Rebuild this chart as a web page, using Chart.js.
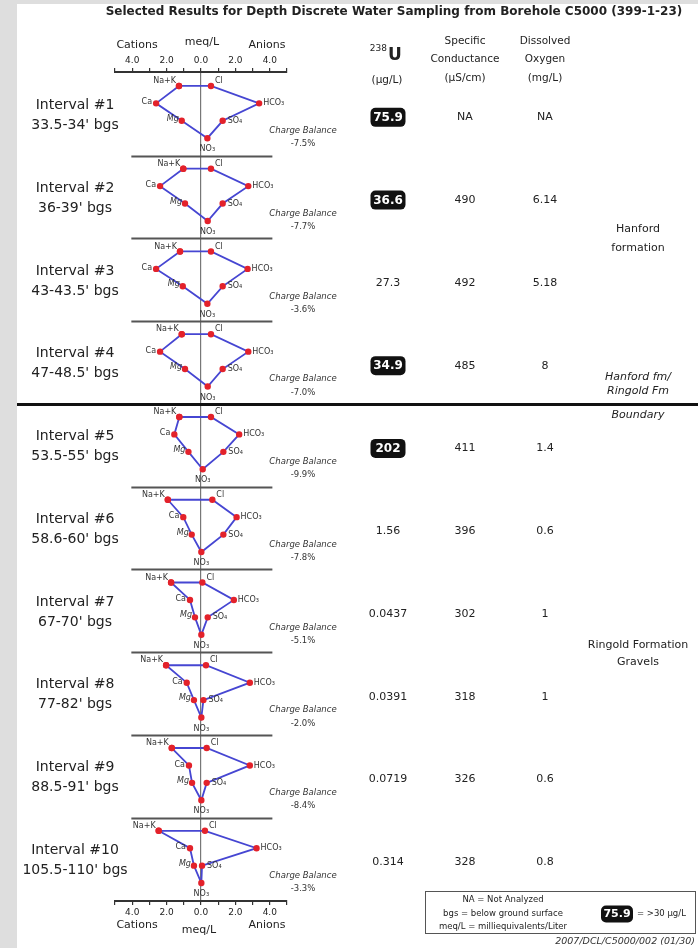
<!DOCTYPE html>
<html>
<head>
<meta charset="utf-8">
<script src="https://cdn.jsdelivr.net/npm/chart.js@4.4.1/dist/chart.umd.min.js"></script>
<style>
    body { margin: 0; background: #dedede; }
    #sheet { position: absolute; left: 17px; top: 4px; width: 681px; height: 944px; background: #ffffff; }
    #wrap { position: absolute; left: 0; top: 0; width: 698px; height: 948px; }
</style>
</head>
<body>
<div id="sheet"></div>
<div id="wrap"><canvas id="stiffChart" width="698" height="948"></canvas></div>
<script>
// Stiff diagrams for depth discrete samples, borehole C5000

const intervals = ['Interval #1', 'Interval #2', 'Interval #3', 'Interval #4', 'Interval #5',
    'Interval #6', 'Interval #7', 'Interval #8', 'Interval #9', 'Interval #10'];
const depths = ["33.5-34' bgs", "36-39' bgs", "43-43.5' bgs", "47-48.5' bgs", "53.5-55' bgs",
    "58.6-60' bgs", "67-70' bgs", "77-82' bgs", "88.5-91' bgs", "105.5-110' bgs"];

// cations (meq/L), plotted to the left
const naK = [1.28, 1.03, 1.22, 1.12, 1.26, 1.93, 1.74, 2.03, 1.70, 2.46];
const ca  = [2.61, 2.38, 2.61, 2.38, 1.55, 1.03, 0.64, 0.83, 0.70, 0.64];
const mg  = [1.12, 0.93, 1.06, 0.93, 0.73, 0.54, 0.35, 0.41, 0.52, 0.41];
// anions (meq/L), plotted to the right
const cl   = [0.58, 0.58, 0.58, 0.58, 0.58, 0.66, 0.08, 0.29, 0.33, 0.23];
const hco3 = [3.38, 2.75, 2.71, 2.75, 2.22, 2.07, 1.91, 2.84, 2.84, 3.23];
const so4  = [1.26, 1.26, 1.26, 1.26, 1.30, 1.30, 0.39, 0.14, 0.33, 0.06];
const no3  = [0.37, 0.39, 0.37, 0.39, 0.10, 0.02, 0.02, 0.02, 0.02, 0.02];

const chargeBalance = ['-7.5%', '-7.7%', '-3.6%', '-7.0%', '-9.9%', '-7.8%', '-5.1%', '-2.0%', '-8.4%', '-3.3%'];
const uranium = ['75.9', '36.6', '27.3', '34.9', '202', '1.56', '0.0437', '0.0391', '0.0719', '0.314'];
const conductance = ['NA', '490', '492', '485', '411', '396', '302', '318', '326', '328'];
const oxygen = ['NA', '6.14', '5.18', '8', '1.4', '0.6', '1', '1', '0.6', '0.8'];
const xTicks = [-4, -2, 0, 2, 4];

const PANEL = 4.75;       // rows per interval block
const FONT = '"DejaVu Sans", sans-serif';

function panelData(i) {
    const b = i * PANEL;
    return [
        { x: -naK[i], y: b }, { x: cl[i], y: b },
        { x: hco3[i], y: b + 1 }, { x: so4[i], y: b + 2 },
        { x: no3[i], y: b + 3 }, { x: -mg[i], y: b + 2 },
        { x: -ca[i], y: b + 1 }, { x: -naK[i], y: b }
    ];
}

function txt(ctx, s, x, y, font, align, color) {
    ctx.font = font;
    ctx.textAlign = align || 'center';
    ctx.textBaseline = 'middle';
    ctx.fillStyle = color || '#222';
    ctx.fillText(s, x, y);
}

function blackBox(ctx, s, cx, cy, w, h, size) {
    ctx.fillStyle = '#111';
    ctx.beginPath();
    ctx.roundRect(cx - w / 2, cy - h / 2, w, h, 5);
    ctx.fill();
    txt(ctx, s, cx, cy + 0.5, 'bold ' + size + 'px ' + FONT, 'center', '#fff');
}

const separators = {
    id: 'separators',
    beforeDatasetsDraw(chart) {
        const { ctx, scales: { x, y } } = chart;
        ctx.save();
        for (let i = 0; i < intervals.length - 1; i++) {
            const py = Math.round(y.getPixelForValue(i * PANEL + 4.0)) + 0.5;
            ctx.beginPath();
            if (i === 3) {
                ctx.strokeStyle = '#111';
                ctx.lineWidth = 3;
                ctx.moveTo(17, py);
                ctx.lineTo(698, py);
            } else {
                ctx.strokeStyle = '#555';
                ctx.lineWidth = 2;
                ctx.moveTo(x.getPixelForValue(-4.05), py);
                ctx.lineTo(x.getPixelForValue(4.15), py);
            }
            ctx.stroke();
        }
        ctx.restore();
    }
};

const sheetText = {
    id: 'sheetText',
    afterDraw(chart) {
        const { ctx, scales: { x, y } } = chart;
        ctx.save();

        txt(ctx, 'Selected Results for Depth Discrete Water Sampling from Borehole C5000 (399-1-23)',
            394, 12, 'bold 12px ' + FONT);

        // axis captions
        const cap = '11px ' + FONT;
        txt(ctx, 'Cations', 137, 45, cap);
        txt(ctx, 'meq/L', 202, 42, cap);
        txt(ctx, 'Anions', 267, 45, cap);
        txt(ctx, 'Cations', 137, 925, cap);
        txt(ctx, 'meq/L', 199, 930, cap);
        txt(ctx, 'Anions', 267, 925, cap);

        // column headers
        const head = '10.5px ' + FONT;
        txt(ctx, '238', 387, 49, '9px ' + FONT, 'right');
        txt(ctx, 'U', 388, 56, 'bold 17px ' + FONT, 'left');
        txt(ctx, '(\u00b5g/L)', 387, 80, head);
        txt(ctx, 'Specific', 465, 41, head);
        txt(ctx, 'Conductance', 465, 59, head);
        txt(ctx, '(\u00b5S/cm)', 465, 78, head);
        txt(ctx, 'Dissolved', 545, 41, head);
        txt(ctx, 'Oxygen', 545, 59, head);
        txt(ctx, '(mg/L)', 545, 78, head);

        const ion = '8px ' + FONT;
        const ionC = '#333';
        intervals.forEach((name, i) => {
            const b = i * PANEL;
            const y0 = y.getPixelForValue(b);
            const y1 = y.getPixelForValue(b + 1);
            const y2 = y.getPixelForValue(b + 2);
            const y3 = y.getPixelForValue(b + 3);

            // ion labels next to their points
            txt(ctx, 'Na+K', x.getPixelForValue(-naK[i]) - 3, y0 - 5, ion, 'right', ionC);
            txt(ctx, 'Cl', x.getPixelForValue(cl[i]) + 4, y0 - 5, ion, 'left', ionC);
            txt(ctx, 'Ca', x.getPixelForValue(-ca[i]) - 4, y1 - 1, ion, 'right', ionC);
            txt(ctx, 'HCO\u2083', x.getPixelForValue(hco3[i]) + 4, y1, ion, 'left', ionC);
            txt(ctx, 'Mg', x.getPixelForValue(-mg[i]) - 3, y2 - 2, 'italic ' + ion, 'right', ionC);
            txt(ctx, 'SO\u2084', x.getPixelForValue(so4[i]) + 5, y2, ion, 'left', ionC);
            txt(ctx, 'NO\u2083', x.getPixelForValue(no3[i]), y3 + 11, ion, 'center', ionC);

            // interval names
            txt(ctx, name, 75, y1 + 2, '14px ' + FONT);
            txt(ctx, depths[i], 75, y1 + 22, '14px ' + FONT);

            // charge balance
            txt(ctx, 'Charge Balance', 303, y2 + 10, 'italic 8.5px ' + FONT, 'center', '#333');
            txt(ctx, chargeBalance[i], 303, y3 + 6, '8.5px ' + FONT, 'center', '#333');

            // table values
            const vy = y1 + 14;
            if (parseFloat(uranium[i]) > 30) {
                blackBox(ctx, uranium[i], 388, vy, 35, 19, 12);
            } else {
                txt(ctx, uranium[i], 388, vy, '11px ' + FONT);
            }
            txt(ctx, conductance[i], 465, vy, '11px ' + FONT);
            txt(ctx, oxygen[i], 545, vy, '11px ' + FONT);
        });

        // formations
        const fm = '11px ' + FONT;
        txt(ctx, 'Hanford', 638, 229, fm);
        txt(ctx, 'formation', 638, 248, fm);
        txt(ctx, 'Hanford fm/', 638, 377, 'italic ' + fm);
        txt(ctx, 'Ringold Fm', 638, 391, 'italic ' + fm);
        txt(ctx, 'Boundary', 638, 415, 'italic ' + fm);
        txt(ctx, 'Ringold Formation', 638, 645, fm);
        txt(ctx, 'Gravels', 638, 662, fm);

        // key box
        ctx.strokeStyle = '#555';
        ctx.lineWidth = 1;
        ctx.strokeRect(425.5, 891.5, 270, 42);
        const key = '8.5px ' + FONT;
        txt(ctx, 'NA = Not Analyzed', 503, 900, key);
        txt(ctx, 'bgs = below ground surface', 503, 914, key);
        txt(ctx, 'meq/L = milliequivalents/Liter', 503, 927, key);
        blackBox(ctx, '75.9', 617, 914, 32, 17, 11);
        txt(ctx, '= >30 \u00b5g/L', 637, 914, key, 'left');

        txt(ctx, '2007/DCL/C5000/002 (01/30)', 695, 942, 'italic 9.5px ' + FONT, 'right', '#333');

        ctx.restore();
    }
};

function axisCfg(position, drawCenter) {
    return {
        type: 'linear',
        position: position,
        min: -5,
        max: 5,
        afterFit: s => { s.height = 16; },
        ticks: {
            stepSize: 1,
            autoSkip: false,
            maxRotation: 0,
            padding: 2,
            color: '#222',
            font: { family: 'DejaVu Sans', size: 9 },
            callback: v => xTicks.includes(v) ? Math.abs(v).toFixed(1) : ''
        },
        grid: {
            drawOnChartArea: drawCenter,
            color: c => (c.tick && c.tick.value === 0) ? '#777' : 'rgba(0,0,0,0)',
            lineWidth: 1.2,
            tickColor: '#333',
            tickLength: 4
        },
        border: { color: '#333', width: 2 }
    };
}

const ctx = document.getElementById('stiffChart');

new Chart(ctx, {
    type: 'scatter',
    data: {
        datasets: intervals.map((name, i) => ({
            label: name,
            data: panelData(i),
            showLine: true,
            borderColor: '#4646d2',
            borderWidth: 1.8,
            pointBackgroundColor: '#e3222b',
            pointBorderColor: '#e3222b',
            pointRadius: 2.3,
            tension: 0
        }))
    },
    options: {
        responsive: false,
        animation: false,
        devicePixelRatio: 1,
        layout: { padding: { left: 115, right: 411, top: 56, bottom: 31 } },
        plugins: {
            legend: { display: false },
            tooltip: { enabled: false }
        },
        scales: {
            x: axisCfg('bottom', true),
            x2: axisCfg('top', false),
            y: {
                type: 'linear',
                reverse: true,
                min: -0.8,
                max: 9 * PANEL + 3 + 1.03,
                display: false
            }
        }
    },
    plugins: [separators, sheetText]
});
</script>
</body>
</html>
